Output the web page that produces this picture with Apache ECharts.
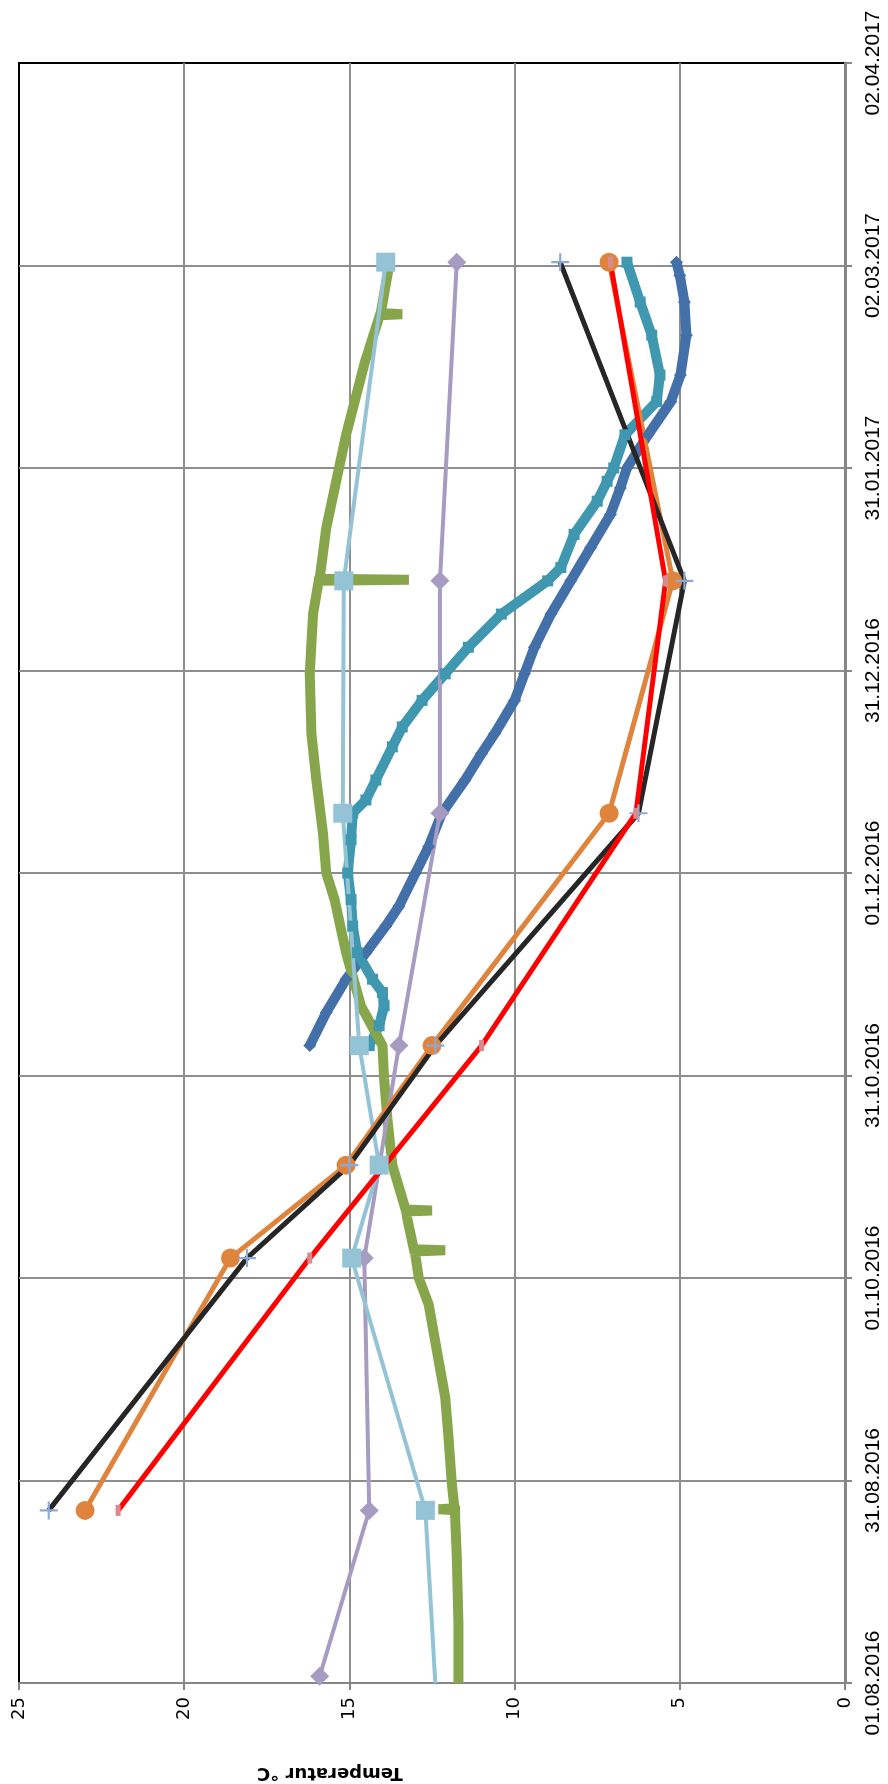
<!DOCTYPE html>
<html>
<head>
<meta charset="utf-8">
<script src="https://cdn.jsdelivr.net/npm/echarts@6/dist/echarts.min.js"></script>
<style>
  html, body { margin: 0; padding: 0; background: #fff; }
  #chart { width: 888px; height: 1784px; }
</style>
</head>
<body>
<div id="chart"></div>
<script>
// Temperature readings, winter 2016/17 (°C)

// Spot measurements
const spotDates = ['2016-08-27', '2016-10-04', '2016-10-18', '2016-11-05', '2016-12-10', '2017-01-14', '2017-03-03'];
const blackVals  = [24.1, 18.1, 15.0, 12.4, 6.25, 4.86, 8.62];
const orangeVals = [23.0, 18.6, 15.1, 12.5, 7.14, 5.21, 7.14];
const redVals    = [22.0, 16.2, null, 11.0, 6.33, 5.43, 7.1];

const purpleDates = ['2016-08-02', '2016-08-27', '2016-10-04', '2016-11-05', '2016-12-10', '2017-01-14', '2017-03-03'];
const purpleVals  = [15.9, 14.4, 14.55, 13.5, 12.26, 12.26, 11.75];

const lightBlueDates = ['2016-08-01', '2016-08-27', '2016-10-04', '2016-10-18', '2016-11-05', '2016-12-10', '2017-01-14', '2017-03-03'];
const lightBlueVals  = [12.4, 12.7, 14.93, 14.1, 14.7, 15.2, 15.17, 13.9];

// Logger series
const darkBlueDates = ['2016-11-05', '2016-11-10', '2016-11-15', '2016-11-19', '2016-11-23', '2016-11-26', '2016-12-01', '2016-12-05',
  '2016-12-10', '2016-12-15', '2016-12-19', '2016-12-22', '2016-12-27', '2016-12-31', '2017-01-04', '2017-01-09', '2017-01-14',
  '2017-01-19', '2017-01-24', '2017-01-28', '2017-01-31', '2017-02-05', '2017-02-10', '2017-02-14', '2017-02-20', '2017-02-25',
  '2017-03-01', '2017-03-03'];
const darkBlueVals = [16.2, 15.7, 15.1, 14.5, 13.9, 13.5, 13.0, 12.6,
  12.2, 11.5, 11.0, 10.6, 10.0, 9.7, 9.4, 8.9, 8.3,
  7.7, 7.1, 6.8, 6.6, 5.96, 5.27, 4.98, 4.8, 4.86,
  5.0, 5.1];

const tealDates = ['2016-11-05', '2016-11-08', '2016-11-11', '2016-11-13', '2016-11-15', '2016-11-19', '2016-11-23', '2016-11-27',
  '2016-12-01', '2016-12-06', '2016-12-10', '2016-12-12', '2016-12-15', '2016-12-20', '2016-12-23', '2016-12-27', '2016-12-31',
  '2017-01-04', '2017-01-09', '2017-01-14', '2017-01-16', '2017-01-21', '2017-01-26', '2017-01-29', '2017-01-31', '2017-02-05',
  '2017-02-10', '2017-02-14', '2017-02-20', '2017-02-25', '2017-03-03'];
const tealVals = [14.4, 14.1, 13.95, 14.0, 14.3, 14.76, 14.9, 14.95,
  15.05, 14.95, 14.9, 14.5, 14.2, 13.7, 13.4, 12.8, 12.1,
  11.4, 10.4, 9.0, 8.6, 8.2, 7.5, 7.2, 7.0, 6.66,
  5.7, 5.6, 5.85, 6.2, 6.6];

// Single low readings show up as short spikes (hourly entries around them)
const greenDates = ['2016-08-01', '2016-08-10', '2016-08-20', '2016-08-26', '2016-08-27 00:00', '2016-08-27 04:00', '2016-08-27 08:00', '2016-08-31', '2016-09-07',
  '2016-09-13', '2016-09-20', '2016-09-27', '2016-10-01', '2016-10-05 00:00', '2016-10-05 04:00', '2016-10-05 08:00', '2016-10-10', '2016-10-11 00:00',
  '2016-10-11 04:00', '2016-10-11 08:00', '2016-10-18', '2016-10-25', '2016-10-31', '2016-11-05', '2016-11-11', '2016-11-19', '2016-11-27', '2016-12-01',
  '2016-12-07', '2016-12-11', '2016-12-15', '2016-12-22', '2016-12-31', '2017-01-09', '2017-01-14 00:00', '2017-01-14 04:00', '2017-01-14 08:00',
  '2017-01-22', '2017-01-29', '2017-02-05', '2017-02-16', '2017-02-23 00:00', '2017-02-23 04:00', '2017-02-23 08:00', '2017-03-03'];
const greenVals = [11.7, 11.7, 11.75, 11.8, 11.8, 12.3, 11.82, 11.9, 12.0,
  12.1, 12.35, 12.6, 12.9, 13.02, 12.1, 13.05, 13.25, 13.28,
  12.5, 13.3, 13.7, 13.85, 13.95, 14.0, 14.65, 15.1, 15.45, 15.7,
  15.8, 15.9, 16.0, 16.15, 16.2, 16.1, 15.93, 13.2, 15.9,
  15.7, 15.4, 15.1, 14.53, 14.08, 13.4, 14.05, 13.78];

// Date axis: days counted from 01.08.2016, one gridline every 30.5 days
const AXIS_START = Date.UTC(2016, 7, 1);
const DAY = 86400000;
function dayOffset(s) {
  const parts = s.split(' ');
  const p = parts[0].split('-').map(Number);
  const t = parts[1] ? parts[1].split(':').map(Number) : [0, 0];
  return (Date.UTC(p[0], p[1] - 1, p[2], t[0], t[1]) - AXIS_START) / DAY;
}
function pad(n) { return n < 10 ? '0' + n : '' + n; }
function dateLabel(v) {
  const d = new Date(AXIS_START + Math.floor(v + 1e-9) * DAY);
  return pad(d.getUTCDate()) + '.' + pad(d.getUTCMonth() + 1) + '.' + d.getUTCFullYear();
}
function pairs(dates, vals) {
  const out = [];
  dates.forEach((d, i) => { if (vals[i] !== null) out.push([vals[i], dayOffset(d)]); });
  return out;
}

const plusPath = 'path://M4.4,0 L5.6,0 L5.6,4.4 L10,4.4 L10,5.6 L5.6,5.6 L5.6,10 L4.4,10 L4.4,5.6 L0,5.6 L0,4.4 L4.4,4.4 Z';

const lightBlueData = pairs(lightBlueDates, lightBlueVals);
lightBlueData[0] = { value: lightBlueData[0], symbol: 'none' };

const chart = echarts.init(document.getElementById('chart'), null, { renderer: 'canvas' });
chart.setOption({
  animation: false,
  backgroundColor: '#ffffff',
  grid: {
    left: 19, right: 43, top: 63, bottom: 101,
    show: true, borderColor: '#000000', borderWidth: 2, backgroundColor: '#ffffff'
  },
  xAxis: {
    type: 'value', position: 'bottom', inverse: true,
    min: 0, max: 25, interval: 5,
    axisLine: { show: true, lineStyle: { color: '#868686', width: 2 } },
    axisTick: { show: true, length: 7, lineStyle: { color: '#868686', width: 2 } },
    axisLabel: { rotate: 90, margin: 14, fontSize: 18, fontFamily: 'DejaVu Sans', color: '#000000' },
    splitLine: { show: true, showMinLine: false, showMaxLine: false, lineStyle: { color: '#8e8e8e', width: 2 } }
  },
  yAxis: {
    type: 'value', position: 'right',
    min: 0, max: 244, interval: 30.5,
    axisLine: { show: true, lineStyle: { color: '#868686', width: 3 } },
    axisTick: { show: true, length: 7, lineStyle: { color: '#868686', width: 2 } },
    axisLabel: { rotate: 90, margin: 18, fontSize: 21, fontFamily: 'Liberation Sans Narrow, Liberation Sans', color: '#000000', formatter: dateLabel },
    splitLine: { show: true, showMinLine: false, showMaxLine: false, lineStyle: { color: '#8e8e8e', width: 2 } }
  },
  graphic: [{
    type: 'text', x: 330, y: 1773, rotation: Math.PI,
    style: { text: 'Temperatur °C', font: 'bold 18px "DejaVu Sans"', fill: '#000000', align: 'center', verticalAlign: 'middle' }
  }],
  series: [
    { name: 'darkBlue', type: 'line', data: pairs(darkBlueDates, darkBlueVals),
      symbol: 'diamond', symbolSize: 13, showAllSymbol: true,
      lineStyle: { color: '#4470A9', width: 10 }, itemStyle: { color: '#4470A9' } },
    { name: 'teal', type: 'line', data: pairs(tealDates, tealVals),
      symbol: 'rect', symbolSize: 11, showAllSymbol: true,
      lineStyle: { color: '#3F97B0', width: 10 }, itemStyle: { color: '#3F97B0' } },
    { name: 'green', type: 'line', data: pairs(greenDates, greenVals),
      symbol: 'none',
      lineStyle: { color: '#87A64B', width: 10, join: 'miter', cap: 'butt' }, itemStyle: { color: '#87A64B' } },
    { name: 'purple', type: 'line', data: pairs(purpleDates, purpleVals),
      symbol: 'diamond', symbolSize: 19, showAllSymbol: true,
      lineStyle: { color: '#A69BC1', width: 4 }, itemStyle: { color: '#A69BC1' } },
    { name: 'lightBlue', type: 'line', data: lightBlueData,
      symbol: 'rect', symbolSize: 19, showAllSymbol: true,
      lineStyle: { color: '#93C3D5', width: 4 }, itemStyle: { color: '#93C3D5' } },
    { name: 'orange', type: 'line', data: pairs(spotDates, orangeVals),
      symbol: 'circle', symbolSize: 19, showAllSymbol: true,
      lineStyle: { color: '#DF843C', width: 5 }, itemStyle: { color: '#DF843C' } },
    { name: 'black', type: 'line', data: pairs(spotDates, blackVals),
      symbol: plusPath, symbolSize: 18, showAllSymbol: true,
      lineStyle: { color: '#262626', width: 5 }, itemStyle: { color: '#8FA9D6' } },
    { name: 'red', type: 'line', data: pairs(spotDates, redVals), connectNulls: true,
      symbol: 'rect', symbolSize: [5, 11], showAllSymbol: true,
      lineStyle: { color: '#FF0000', width: 5 }, itemStyle: { color: '#D98A8F' } }
  ]
});
</script>
</body>
</html>
